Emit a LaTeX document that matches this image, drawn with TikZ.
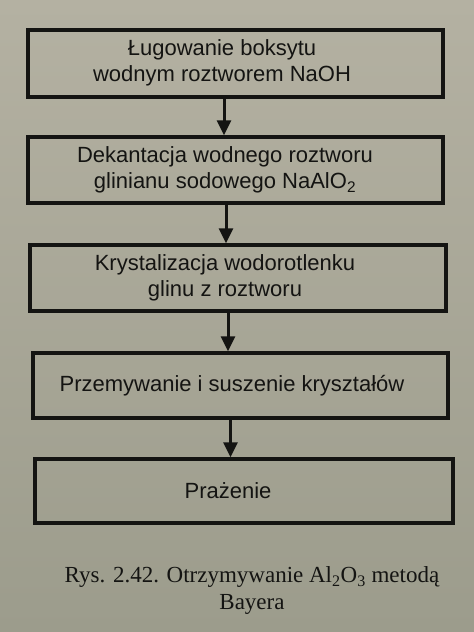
\documentclass[tikz,border=0pt]{standalone}
\usepackage{fontspec}
\setmainfont{Liberation Sans}
\newfontfamily\capfont{Liberation Serif}
\usetikzlibrary{arrows.meta}
\definecolor{bgtop}{RGB}{180,177,162}
\definecolor{bgbot}{RGB}{156,156,140}
\definecolor{ink}{RGB}{20,20,18}
\tikzset{
  stepbox/.style={draw=ink, line width=3.4pt, rectangle, inner sep=0pt},
  boxtext/.style={text=ink, font=\fontsize{22}{25.5}\selectfont, align=center, inner sep=0pt},
  captext/.style={text=ink, font=\capfont\fontsize{23}{27}\selectfont, align=center, inner sep=0pt},
  flow/.style={draw=ink, line width=3pt, -{Triangle[width=14pt,length=15pt]}}
}
\begin{document}
\begin{tikzpicture}[x=1pt,y=1pt]
\shade[top color=bgtop, bottom color=bgbot] (0,0) rectangle (474,632);
\useasboundingbox (0,0) rectangle (474,632);
% boxes
\node[stepbox, minimum width=415, minimum height=67] (b1) at (235.5,568.5) {};
\node[stepbox, minimum width=415, minimum height=66] (b2) at (235.5,462) {};
\node[stepbox, minimum width=416, minimum height=66] (b3) at (238,354) {};
\node[stepbox, minimum width=415, minimum height=65] (b4) at (240.5,246.5) {};
\node[stepbox, minimum width=418, minimum height=64] (b5) at (244,141) {};
% texts
\node[boxtext] (t1) at (222,569) {Ługowanie boksytu\\wodnym roztworem NaOH};
\node[boxtext] (t2) at (225,462) {Dekantacja wodnego roztworu\\glinianu sodowego NaAlO\textsubscript{2}};
\node[boxtext] (t3) at (225,354) {Krystalizacja wodorotlenku\\glinu z roztworu};
\node[boxtext] (t4) at (232,246) {Przemywanie i suszenie kryształów};
\node[boxtext] (t5) at (228,141) {Prażenie};
% arrow axes
\coordinate (a1) at (224,0);
\coordinate (a2) at (226,0);
\coordinate (a3) at (228,0);
\coordinate (a4) at (230.5,0);
% arrows
\draw[flow] (b1.south -| a1) -- (b2.north -| a1);
\draw[flow] (b2.south -| a2) -- (b3.north -| a2);
\draw[flow] (b3.south -| a3) -- (b4.north -| a3);
\draw[flow] (b4.south -| a4) -- (b5.north -| a4);
% caption
\node[captext] (cap) at (252,41) {Rys. 2.42. Otrzymywanie Al\textsubscript{2}O\textsubscript{3} metodą\\Bayera};
\end{tikzpicture}
\end{document}
